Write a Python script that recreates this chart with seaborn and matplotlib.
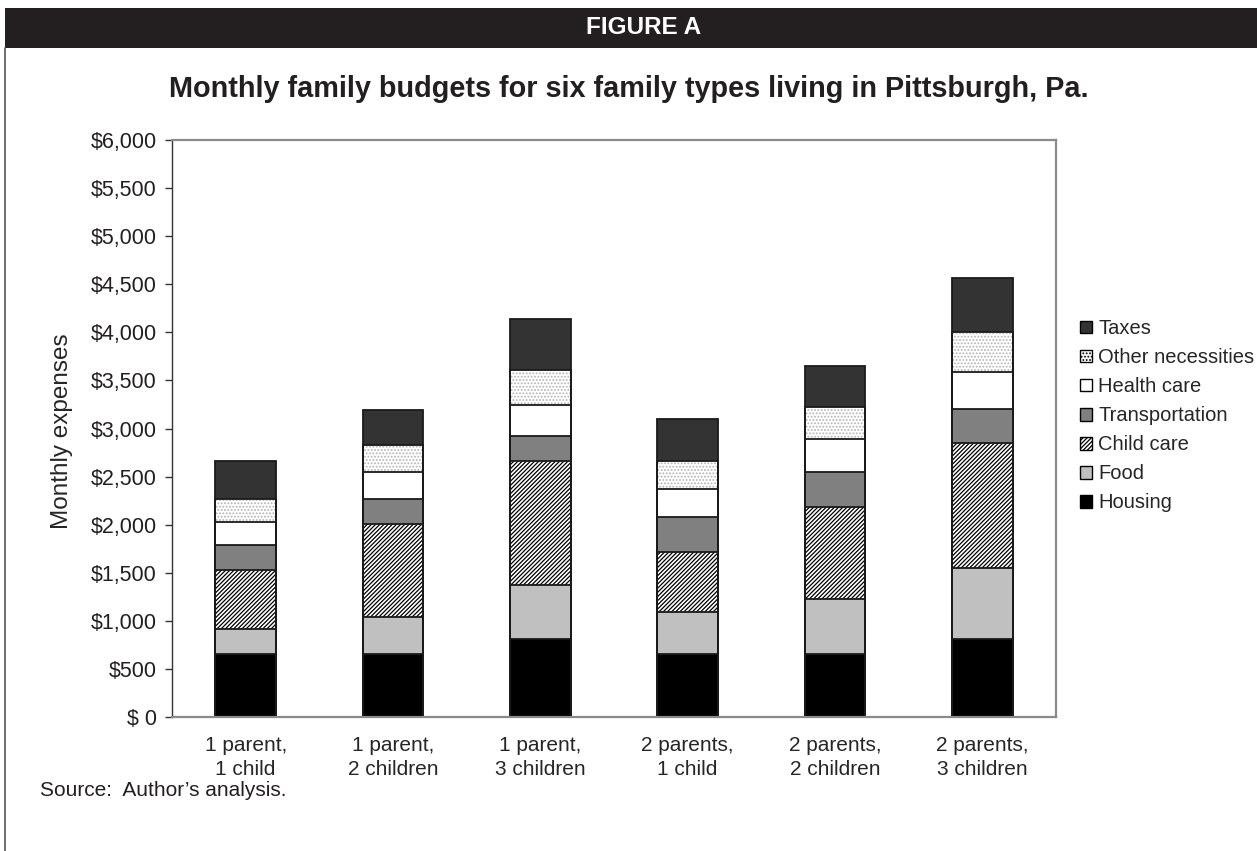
import numpy as np
import seaborn as sns
import matplotlib.pyplot as plt
from matplotlib.patches import Rectangle, Patch
from matplotlib.lines import Line2D

families = ['1 parent,\n1 child', '1 parent,\n2 children', '1 parent,\n3 children',
            '2 parents,\n1 child', '2 parents,\n2 children', '2 parents,\n3 children']

housing = [653, 653, 809, 653, 653, 809]
food = [260, 392, 559, 444, 576, 740]
child_care = [618, 958, 1299, 618, 959, 1302]
transportation = [253, 261, 253, 361, 364, 354]
health_care = [240, 281, 329, 296, 340, 385]
other_necessities = [240, 281, 362, 291, 330, 413]
taxes = [395, 365, 524, 438, 424, 560]

yticks = list(range(0, 6001, 500))
ytick_labels = ['$ 0'] + [f'${v:,}' for v in yticks[1:]]

# name, values, face, hatch, hatch colour
layers = [
    ('Housing', housing, '#000000', None, '#000000'),
    ('Food', food, '#c0c0c0', None, '#c0c0c0'),
    ('Child care', child_care, '#ffffff', '////////', '#000000'),
    ('Transportation', transportation, '#808080', None, '#808080'),
    ('Health care', health_care, '#ffffff', None, '#ffffff'),
    ('Other necessities', other_necessities, '#ffffff', '.....', '#b4b4b4'),
    ('Taxes', taxes, '#333333', None, '#333333'),
]

sns.set_style('white')
plt.rcParams['font.family'] = ['Liberation Sans', 'DejaVu Sans']
plt.rcParams['hatch.linewidth'] = 0.9

fig = plt.figure(figsize=(12.57, 8.51), dpi=100)

# header band and left frame line
fig.patches.append(Rectangle((5/1257, 1-48/851), 1-5/1257, 40/851, transform=fig.transFigure,
                             facecolor='#231f20', edgecolor='none'))
fig.lines.append(Line2D([5/1257, 5/1257], [0, 1-48/851], transform=fig.transFigure,
                        color='#555555', lw=1.2))
fig.text(644/1257, 1-28/851, 'FIGURE A', color='white', fontsize=17.5, fontweight='bold',
         ha='center', va='center')
fig.text(0.5, 1-89/851, 'Monthly family budgets for six family types living in Pittsburgh, Pa.',
         fontsize=20.8, fontweight='bold', ha='center', va='center', color='#231f20')
fig.text(40/1257, 1-791/851, 'Source:  Author\u2019s analysis.', fontsize=15, va='center',
         color='#231f20')

ax = fig.add_axes([172/1257, 1-717/851, (1056-172)/1257, (717-140)/851])

cum = np.cumsum([l[1] for l in layers], axis=0)
# draw from the top layer down so each lower total covers the one before
for i in range(len(layers) - 1, -1, -1):
    name, vals, face, hatch, hcol = layers[i]
    sns.barplot(x=families, y=cum[i], color=face, hatch=hatch, edgecolor=hcol, linewidth=0,
                width=0.41, saturation=1, errorbar=None, ax=ax)
for i in range(len(layers) - 1, -1, -1):
    sns.barplot(x=families, y=cum[i], fill=False, color='#1a1a1a', linewidth=1.3,
                width=0.41, errorbar=None, ax=ax)

ax.set_ylim(0, 6000)
ax.set_xlim(-0.5, 5.5)
ax.set_yticks(yticks)
ax.set_yticklabels(ytick_labels)
ax.set_ylabel('Monthly expenses', fontsize=17.5)
ax.yaxis.set_label_coords(-0.112, 0.495)
ax.set_xlabel('')
ax.tick_params(axis='y', which='major', direction='out', length=5, width=1, color='#333333',
               labelsize=15.5, pad=6, left=True)
ax.tick_params(axis='x', length=0, labelsize=15, pad=13.5)
for side in ['top', 'right', 'bottom']:
    ax.spines[side].set_color('#8a8a8a')
    ax.spines[side].set_linewidth(1.6)
ax.spines['left'].set_color('#333333')
ax.spines['left'].set_linewidth(1.0)
for lab in ax.get_xticklabels():
    lab.set_ha('center')
    lab.set_multialignment('center')
    lab.set_linespacing(1.32)
for lab in ax.get_yticklabels():
    lab.set_color('#231f20')

handles = [Patch(facecolor=l[2], hatch=l[3], edgecolor='#000000', linewidth=1.0,
                 label=l[0]) for l in layers[::-1]]
leg = fig.legend(handles=handles, loc='upper left', bbox_to_anchor=(1072/1257, 1-311/851),
                 frameon=False, fontsize=14.5, handlelength=0.6, handleheight=0.6,
                 handletextpad=0.3, labelspacing=0.5, borderaxespad=0)

fig.savefig('out.png', dpi=100)
